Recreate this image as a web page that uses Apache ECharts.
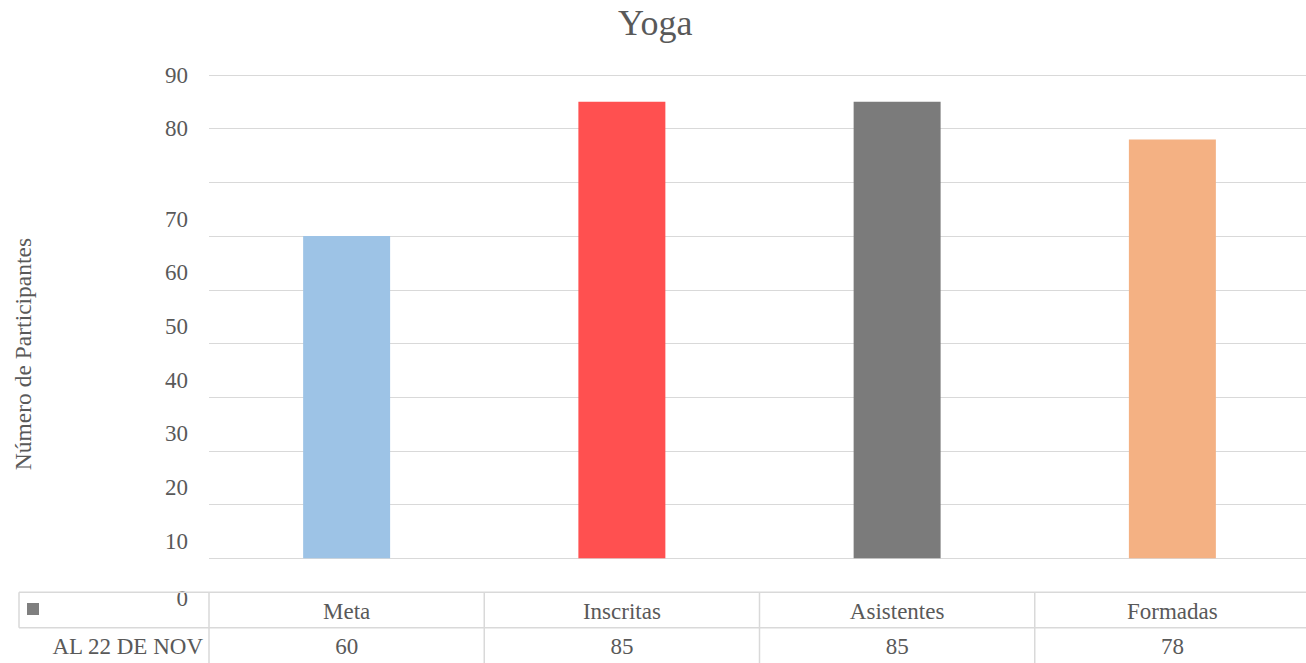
<!DOCTYPE html>
<html><head><meta charset="utf-8">
<script src="https://cdn.jsdelivr.net/npm/echarts@6/dist/echarts.min.js"></script>
<style>html,body{margin:0;padding:0;background:#fff}#c{width:1306px;height:663px}</style>
</head><body><div id="c"></div>
<script>
const titleText = 'Yoga';
const yAxisTitle = 'Número de Participantes';
const seriesName = 'AL 22 DE NOV';
const categories = ['Meta', 'Inscritas', 'Asistentes', 'Formadas'];
const values = [60, 85, 85, 78];
const barColors = ['#9dc3e6', '#ff5050', '#7b7b7b', '#f4b183'];
const yTickValues = [0, 10, 20, 30, 40, 50, 60, 70, 80, 90];
const yTickLabels = ['10', '20', '30', '40', '50', '60', '70', '', '80', '90'];
const yExtraLabel = '0';

const FONT = 'Liberation Serif';
const TXT = '#595959';
const LINE = '#d9d9d9';

const chart = echarts.init(document.getElementById('c'), null, {renderer: 'svg'});

const txt = (extra) => Object.assign({fontFamily: FONT, color: TXT, fontSize: 23}, extra || {});

chart.setOption({
  animation: false,
  title: {
    text: titleText, left: 618, top: 5, padding: 0,
    textStyle: {fontFamily: FONT, color: TXT, fontSize: 36, fontWeight: 'normal'}
  },
  legend: {
    data: [seriesName], left: 27, top: 603, padding: 0, icon: 'rect',
    itemWidth: 12, itemHeight: 12, selectedMode: false,
    formatter: () => '', textStyle: txt()
  },
  grid: {left: 209, width: 1101, top: 75, height: 483.3, containLabel: false, outerBoundsMode: 'none'},
  xAxis: {
    type: 'category', data: categories,
    axisLine: {show: false}, axisTick: {show: false},
    axisLabel: {
      interval: 0, margin: 36,
      formatter: (v, i) => '{c|' + v + '}\n{v|' + values[i] + '}',
      rich: {c: txt({lineHeight: 35}), v: txt({lineHeight: 35})}
    }
  },
  yAxis: {
    type: 'value', min: 0, max: 90, interval: 10,
    axisLine: {show: false}, axisTick: {show: false},
    splitLine: {lineStyle: {color: LINE, width: 1}},
    axisLabel: {
      margin: 21, showMinLabel: true, showMaxLabel: true, hideOverlap: false,
      formatter: function (v) {
        const i = yTickValues.indexOf(v);
        if (i < 0) return '';
        const t = yTickLabels[i];
        if (t === '') return '';
        if (v >= 80) return '{n|' + t + '}';
        return '{n|' + t + '}\n{s| }';
      },
      rich: {
        n: txt({lineHeight: 16}),
        s: txt({fontSize: 10, lineHeight: 34})
      }
    }
  },
  series: [{
    type: 'bar', name: seriesName, barWidth: '31.6%',
    itemStyle: {color: '#7f7f7f'},
    data: values.map((v, i) => ({value: v, itemStyle: {color: barColors[i]}}))
  }]
});

function drawTable() {
  const base = chart.convertToPixel({yAxisIndex: 0}, 0);
  const cx = categories.map(c => chart.convertToPixel({xAxisIndex: 0}, c));
  const band = cx[1] - cx[0];
  const bounds = cx.map(x => x - band / 2);
  const top = base + 34, mid = base + 69.5, bottom = 663, leftX = 19, rightX = 1306;
  const ls = {stroke: LINE, lineWidth: 1.5};
  const els = [];
  els.push({type: 'text', x: bounds[0] - 21, y: base + 40, z: 5,
    style: {text: yExtraLabel, font: '23px ' + FONT, fill: TXT, align: 'right', verticalAlign: 'middle'}});
  els.push({type: 'line', shape: {x1: leftX, y1: top, x2: rightX, y2: top}, style: ls, z: 10});
  els.push({type: 'line', shape: {x1: leftX, y1: mid, x2: rightX, y2: mid}, style: ls, z: 10});
  els.push({type: 'line', shape: {x1: leftX, y1: top, x2: leftX, y2: mid}, style: ls, z: 10});
  bounds.forEach(b => els.push({type: 'line', shape: {x1: b, y1: top, x2: b, y2: bottom}, style: ls, z: 10}));
  els.push({type: 'text', x: bounds[0] - 6, y: (mid + bottom) / 2 + 1,
    style: {text: seriesName, font: '23px ' + FONT, fill: TXT, align: 'right', verticalAlign: 'middle'}});
  els.push({type: 'text', x: 23, y: 354, rotation: Math.PI / 2,
    style: {text: yAxisTitle, font: '23.5px ' + FONT, fill: TXT, align: 'center', verticalAlign: 'middle'}});
  chart.setOption({graphic: {elements: els}});
}
drawTable();
</script>
</body></html>
